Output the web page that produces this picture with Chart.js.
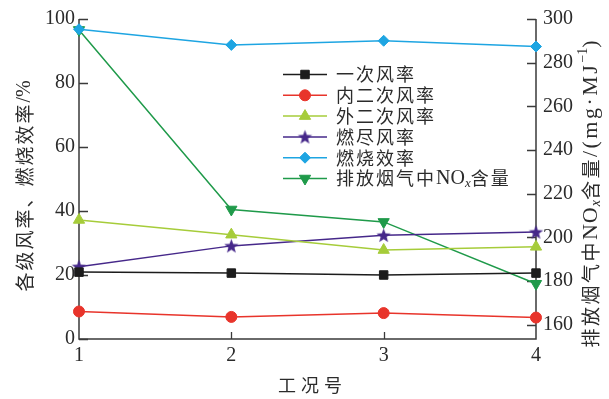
<!DOCTYPE html>
<html>
<head>
<meta charset="utf-8">
<script src="https://cdn.jsdelivr.net/npm/chart.js@4.4.0/dist/chart.umd.min.js"></script>
<style>
  html, body { margin: 0; padding: 0; background: #fff; }
  #wrap { width: 609px; height: 399px; position: relative; }
</style>
</head>
<body>
<div id="wrap"><canvas id="c"></canvas></div>
<script>
// 工况号
const caseNo = [1, 2, 3, 4];
// 各级风率 / 燃烧效率 (%)
const primaryAir = [20.9, 20.6, 20.0, 20.6];
const innerSecondaryAir = [8.6, 6.9, 8.1, 6.7];
const outerSecondaryAir = [37.2, 32.6, 27.8, 28.8];
const overfireAir = [22.6, 29.1, 32.4, 33.4];
const combustionEff = [96.8, 91.9, 93.2, 91.4];
// 排放烟气中NOx含量 (mg·MJ^-1)
const noxContent = [295, 212.8, 207.1, 178.8];

const leftTicks = [0, 20, 40, 60, 80, 100];
const rightTicks = [160, 180, 200, 220, 240, 260, 280, 300];

const SERIF = '"Liberation Serif", "Times New Roman", "Noto Sans CJK SC", serif';
const CJK = '"Noto Sans CJK SC", "Liberation Serif", sans-serif';
const TEXT = '#2b2b2b';
const AXIS = '#3a3a3a';

function pts(arr) {
  return caseNo.map((x, i) => ({ x: x, y: arr[i] }));
}

// filled five-point star used as marker image
function makeStar(color, R) {
  const s = Math.ceil(R * 2 + 2);
  const c = document.createElement('canvas');
  c.width = s; c.height = s;
  const g = c.getContext('2d');
  g.fillStyle = color;
  g.beginPath();
  for (let i = 0; i < 10; i++) {
    const r = i % 2 ? R * 0.42 : R;
    const a = -Math.PI / 2 + i * Math.PI / 5;
    g.lineTo(s / 2 + r * Math.cos(a), s / 2 + r * Math.sin(a) + R * 0.08);
  }
  g.closePath();
  g.fill();
  return c;
}

const purple = '#46288a';
const starImg = makeStar(purple, 7.5);

function series(label, data, color, style, radius, axis, rotation) {
  return {
    label: label,
    data: pts(data),
    borderColor: color,
    backgroundColor: color,
    pointBackgroundColor: color,
    pointBorderColor: color,
    pointBorderWidth: 1,
    pointStyle: style,
    pointRadius: radius,
    pointHoverRadius: radius,
    pointRotation: rotation || 0,
    borderWidth: 1.5,
    tension: 0,
    fill: false,
    clip: false,
    yAxisID: axis
  };
}

const datasets = [
  series('一次风率', primaryAir, '#1c1c1c', 'rect', 6, 'y'),
  series('内二次风率', innerSecondaryAir, '#e8342b', 'circle', 5.5, 'y'),
  series('外二次风率', outerSecondaryAir, '#a6cc3a', 'triangle', 6.5, 'y'),
  series('燃尽风率', overfireAir, purple, starImg, 7, 'y'),
  series('燃烧效率', combustionEff, '#1ea5e2', 'rectRot', 5.5, 'y'),
  series('排放烟气中NOx含量', noxContent, '#1f9a4a', 'triangle', 6.5, 'y1', 180)
];

// draw a run of text pieces with mixed fonts and sub/superscripts
function richWidth(ctx, segs) {
  let w = 0;
  segs.forEach(s => {
    ctx.font = s.font;
    ctx.letterSpacing = s.ls || '0px';
    w += ctx.measureText(s.t).width;
  });
  ctx.letterSpacing = '0px';
  return w;
}
function drawRich(ctx, segs, x, y) {
  let cx = x;
  segs.forEach(s => {
    ctx.font = s.font;
    ctx.letterSpacing = s.ls || '0px';
    ctx.fillText(s.t, cx, y + (s.dy || 0));
    cx += ctx.measureText(s.t).width;
  });
  ctx.letterSpacing = '0px';
}

const cjk18 = '18px ' + CJK;
const cjk19 = '19px ' + CJK;
const serif20 = '20px ' + SERIF;
const serif22 = '22px ' + SERIF;

const legendLabels = [
  [{ t: '一次风率', font: cjk18, ls: '2px' }],
  [{ t: '内二次风率', font: cjk18, ls: '2px' }],
  [{ t: '外二次风率', font: cjk18, ls: '2px' }],
  [{ t: '燃尽风率', font: cjk18, ls: '2px' }],
  [{ t: '燃烧效率', font: cjk18, ls: '2px' }],
  [{ t: '排放烟气中', font: cjk18, ls: '2px' },
   { t: 'NO', font: serif20 },
   { t: 'x', font: 'italic 13px ' + SERIF, dy: 5 },
   { t: '含量', font: cjk18, ls: '2px' }]
];

const leftTitle = [
  { t: '各级风率、燃烧效率', font: cjk19, ls: '2px' },
  { t: '/%', font: serif20 }
];
const rightTitle = [
  { t: '排放烟气中', font: cjk19, ls: '2.5px' },
  { t: 'NO', font: serif22, ls: '1px' },
  { t: 'x', font: 'italic 14px ' + SERIF, dy: 5 },
  { t: '含量', font: cjk19, ls: '2.5px' },
  { t: '/(mg·MJ', font: serif22, ls: '2.5px' },
  { t: '−1', font: '14px ' + SERIF, dy: -8 },
  { t: ')', font: serif22 }
];

const framePlugin = {
  id: 'frame',
  beforeDatasetsDraw(chart) {
    const { ctx, chartArea: a, scales } = chart;
    ctx.save();
    ctx.strokeStyle = AXIS;
    ctx.lineWidth = 1.5;
    ctx.beginPath();
    ctx.moveTo(a.left, a.top); ctx.lineTo(a.left, a.bottom); ctx.lineTo(a.right, a.bottom); ctx.lineTo(a.right, a.top);
    ctx.stroke();
    ctx.lineWidth = 1.3;
    ctx.beginPath();
    leftTicks.forEach(v => {
      const y = Math.round(scales.y.getPixelForValue(v)) + 0.5;
      ctx.moveTo(a.left, y); ctx.lineTo(a.left + 9, y);
    });
    rightTicks.forEach(v => {
      const y = Math.round(scales.y1.getPixelForValue(v)) + 0.5;
      ctx.moveTo(a.right, y); ctx.lineTo(a.right - 9, y);
    });
    caseNo.slice(1, -1).forEach(v => {
      const x = Math.round(scales.x.getPixelForValue(v)) + 0.5;
      ctx.moveTo(x, a.bottom); ctx.lineTo(x, a.bottom - 7);
    });
    ctx.stroke();
    ctx.restore();
  },
  afterDraw(chart) {
    const { ctx, chartArea: a } = chart;
    ctx.save();
    ctx.fillStyle = TEXT;
    ctx.textBaseline = 'middle';
    ctx.textAlign = 'left';

    // legend
    const lx0 = 283, lx1 = 327, ly0 = 74.5, ldy = 20.8, tx = 336;
    chart.data.datasets.forEach((ds, i) => {
      const y = ly0 + i * ldy;
      ctx.strokeStyle = ds.borderColor;
      ctx.lineWidth = 1.5;
      ctx.beginPath(); ctx.moveTo(lx0, y); ctx.lineTo(lx1, y); ctx.stroke();
      ctx.fillStyle = ds.pointBackgroundColor;
      ctx.strokeStyle = ds.pointBorderColor;
      ctx.lineWidth = 1;
      Chart.helpers.drawPoint(ctx, {
        pointStyle: ds.pointStyle, radius: ds.pointRadius,
        rotation: ds.pointRotation, borderWidth: 1
      }, (lx0 + lx1) / 2, y);
      ctx.fillStyle = TEXT;
      drawRich(ctx, legendLabels[i], tx, y);
    });

    // x title
    ctx.font = cjk18;
    ctx.letterSpacing = '5px';
    ctx.textAlign = 'center';
    ctx.fillText('工况号', (a.left + a.right) / 2 + 5, 385);
    ctx.letterSpacing = '0px';
    ctx.textAlign = 'left';

    // left title, reading upward
    ctx.save();
    ctx.translate(25, 186);
    ctx.rotate(-Math.PI / 2);
    drawRich(ctx, leftTitle, -richWidth(ctx, leftTitle) / 2, 0);
    ctx.restore();

    // right title, reading upward
    ctx.save();
    ctx.translate(591, 194);
    ctx.rotate(-Math.PI / 2);
    drawRich(ctx, rightTitle, -richWidth(ctx, rightTitle) / 2, 0);
    ctx.restore();

    ctx.restore();
  }
};

new Chart(document.getElementById('c'), {
  type: 'line',
  data: { datasets: datasets },
  options: {
    responsive: true,
    maintainAspectRatio: false,
    animation: false,
    events: [],
    layout: { padding: { top: 17, left: 0, right: 0, bottom: 0 } },
    plugins: { legend: { display: false }, tooltip: { enabled: false }, title: { display: false } },
    scales: {
      x: {
        type: 'linear', min: 1, max: 4,
        grid: { display: false, drawTicks: false },
        border: { display: false },
        ticks: { stepSize: 1, padding: 5, color: TEXT, font: { family: SERIF, size: 20 } },
        afterFit(s) { s.height = 60; }
      },
      y: {
        position: 'left', min: 0, max: 100,
        grid: { display: false, drawTicks: false },
        border: { display: false },
        ticks: { stepSize: 20, padding: 4, color: TEXT, font: { family: SERIF, size: 20 } },
        afterBuildTicks(s) { s.ticks = leftTicks.map(v => ({ value: v })); },
        afterFit(s) { s.width = 79; }
      },
      y1: {
        position: 'right', min: 153.5, max: 300,
        grid: { display: false, drawTicks: false },
        border: { display: false },
        ticks: { padding: 7, color: TEXT, font: { family: SERIF, size: 20 } },
        afterBuildTicks(s) { s.ticks = rightTicks.map(v => ({ value: v })); },
        afterFit(s) { s.width = 73; }
      }
    }
  },
  plugins: [framePlugin]
});
</script>
</body>
</html>
